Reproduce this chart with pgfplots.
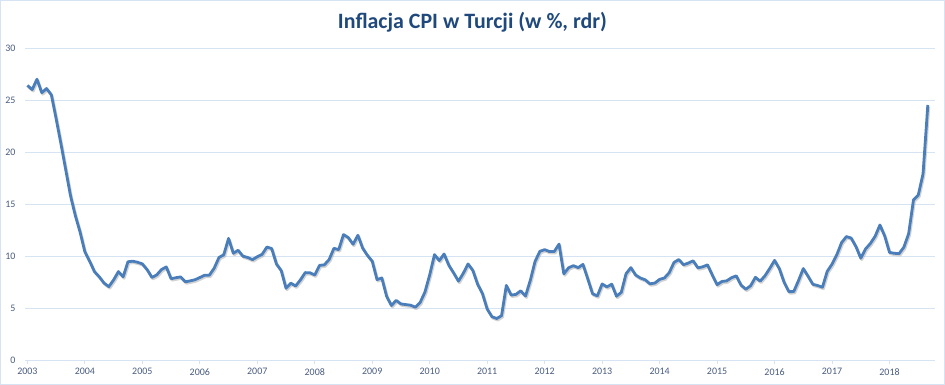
\documentclass[border=0pt]{standalone}
\usepackage{pgfplots}
\pgfplotsset{compat=1.18}
\usepackage{pgfplotstable}
\usepackage{fontspec}
\setmainfont{Carlito}
\definecolor{gridblue}{RGB}{214,227,243}
\definecolor{linecol}{RGB}{74,126,187}
\definecolor{titlecol}{RGB}{31,73,125}
\definecolor{labcol}{RGB}{72,92,128}
\pgfplotstableread{
m v
0 26.4
1 26.0
2 27.0
3 25.7
4 26.1
5 25.5
6 23.2
7 20.8
8 18.3
9 15.8
10 13.9
11 12.3
12 10.4
13 9.5
14 8.5
15 8.0
16 7.4
17 7.05
18 7.7
19 8.5
20 8.0
21 9.45
22 9.5
23 9.4
24 9.24
25 8.69
26 7.94
27 8.18
28 8.70
29 8.95
30 7.82
31 7.91
32 7.99
33 7.52
34 7.61
35 7.72
36 7.93
37 8.15
38 8.16
39 8.83
40 9.86
41 10.12
42 11.69
43 10.26
44 10.55
45 9.98
46 9.86
47 9.65
48 9.93
49 10.16
50 10.86
51 10.72
52 9.23
53 8.60
54 6.90
55 7.39
56 7.12
57 7.70
58 8.40
59 8.39
60 8.17
61 9.10
62 9.15
63 9.66
64 10.74
65 10.61
66 12.06
67 11.77
68 11.13
69 11.99
70 10.76
71 10.06
72 9.50
73 7.73
74 7.89
75 6.13
76 5.24
77 5.73
78 5.39
79 5.33
80 5.27
81 5.08
82 5.53
83 6.53
84 8.19
85 10.13
86 9.56
87 10.19
88 9.10
89 8.37
90 7.58
91 8.33
92 9.24
93 8.62
94 7.29
95 6.40
96 4.90
97 4.16
98 3.99
99 4.26
100 7.17
101 6.24
102 6.31
103 6.65
104 6.15
105 7.66
106 9.48
107 10.45
108 10.61
109 10.43
110 10.43
111 11.14
112 8.28
113 8.87
114 9.07
115 8.88
116 9.19
117 7.80
118 6.37
119 6.16
120 7.31
121 7.03
122 7.29
123 6.13
124 6.51
125 8.30
126 8.88
127 8.17
128 7.88
129 7.71
130 7.32
131 7.40
132 7.75
133 7.89
134 8.39
135 9.38
136 9.66
137 9.16
138 9.32
139 9.54
140 8.86
141 8.96
142 9.15
143 8.17
144 7.24
145 7.55
146 7.61
147 7.91
148 8.09
149 7.20
150 6.81
151 7.14
152 7.95
153 7.58
154 8.10
155 8.81
156 9.58
157 8.78
158 7.46
159 6.57
160 6.58
161 7.64
162 8.79
163 8.05
164 7.28
165 7.16
166 7.00
167 8.53
168 9.22
169 10.13
170 11.29
171 11.87
172 11.72
173 10.90
174 9.79
175 10.68
176 11.20
177 11.90
178 12.98
179 11.92
180 10.35
181 10.26
182 10.23
183 10.85
184 12.15
185 15.39
186 15.85
187 17.90
188 24.52
}\cpi
\begin{document}
\begin{tikzpicture}
\draw[gridblue, line width=1bp] (-24.5bp,-24.5bp) rectangle (919.5bp,359.5bp);
\begin{axis}[
  at={(0,0)}, anchor=south west,
  scale only axis, width=910bp, height=312bp,
  xmin=-0.5, xmax=189.5, ymin=0, ymax=30,
  axis x line*=bottom, axis y line*=left,
  x axis line style={gridblue, line width=0.8bp, -},
  y axis line style={draw=none},
  xtick={0,12,...,180},
  xticklabels={2003,2004,2005,2006,2007,2008,2009,2010,2011,2012,2013,2014,2015,2016,2017,2018},
  ytick={0,5,...,30},
  ymajorgrids, grid style={gridblue, line width=0.8bp},
  xtick style={gridblue, line width=0.8bp},
  ytick style={draw=none},
  tick align=outside, major tick length=4bp,
  tick label style={font=\fontsize{10}{12}\selectfont, text=labcol},
  /pgf/number format/assume math mode=true,
  xticklabel style={yshift=-1bp},
  yticklabel style={xshift=-2bp},
  clip=false,
]
\addplot[black!35, opacity=0.5, line width=2.8bp, line join=round, xshift=1bp, yshift=-1.5bp] table[x=m, y=v] {\cpi};
\addplot[linecol, line width=2.8bp, line join=round] table[x=m, y=v] {\cpi};
\end{axis}
\node[text=titlecol, font=\fontsize{22}{26}\selectfont\bfseries] at (447.5bp,338bp) {Inflacja CPI w Turcji (w \%, rdr)};
\end{tikzpicture}
\end{document}
